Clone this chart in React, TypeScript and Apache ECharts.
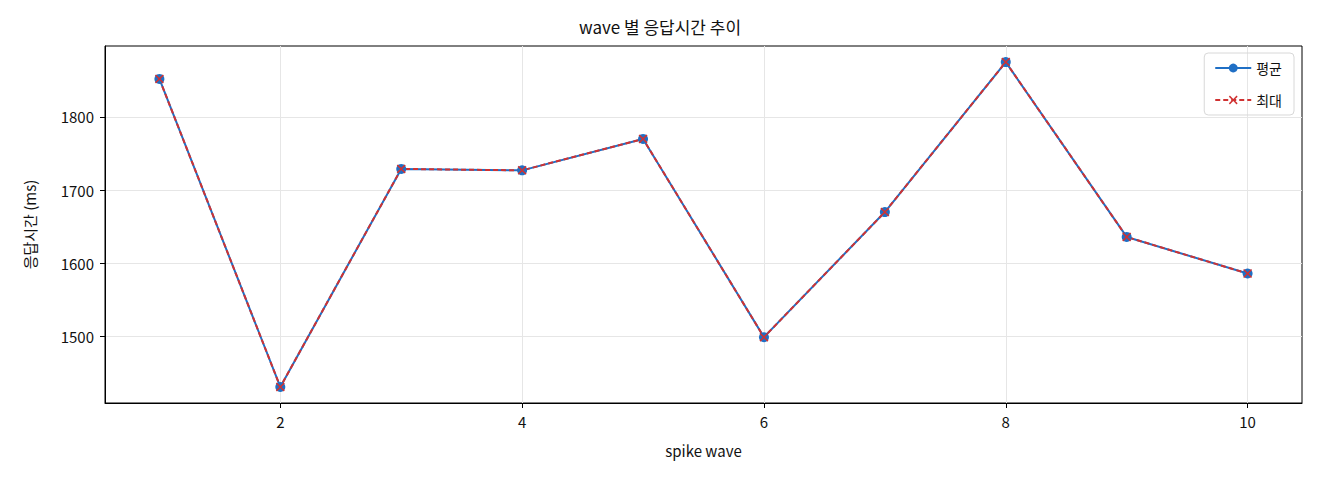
import { useEffect, useRef } from "react";
import * as echarts from "echarts";

const waves = [1, 2, 3, 4, 5, 6, 7, 8, 9, 10];
const avgMs = [1852, 1431, 1729, 1727, 1770, 1499, 1670, 1875, 1636, 1586];
const maxMs = [1852, 1431, 1729, 1727, 1770, 1499, 1670, 1875, 1636, 1586];
const xTicks = [2, 4, 6, 8, 10];
const yTicks = [1500, 1600, 1700, 1800];

const FONT = "'Noto Sans CJK KR', 'Noto Sans', sans-serif";
const BLUE = "#1f6fc5";
const RED = "#d03232";
const CROSS =
  "path://M0,1.2 L1.2,0 L5,3.8 L8.8,0 L10,1.2 L6.2,5 L10,8.8 L8.8,10 L5,6.2 L1.2,10 L0,8.8 L3.8,5 Z";

export default function App() {
  const ref = useRef<HTMLDivElement>(null);

  useEffect(() => {
    if (!ref.current) return;
    const chart = echarts.init(ref.current, null, { renderer: "svg" });
    const label = { fontFamily: FONT, fontSize: 15, color: "#111" };
    chart.setOption({
      animation: false,
      backgroundColor: "#fff",
      textStyle: { fontFamily: FONT },
      title: {
        text: "wave 별 응답시간 추이",
        left: "center",
        top: 13,
        textStyle: { fontFamily: FONT, fontSize: 17, fontWeight: "normal", color: "#111" },
      },
      grid: {
        left: 105,
        right: 18,
        top: 46,
        bottom: 77,
        show: true,
        borderColor: "#000",
        borderWidth: 1,
        backgroundColor: "transparent",
      },
      legend: {
        orient: "vertical",
        right: 26,
        top: 53,
        itemWidth: 36,
        itemHeight: 11,
        itemGap: 18,
        padding: [8, 12, 8, 10],
        borderColor: "#d8d8d8",
        borderWidth: 1,
        borderRadius: 4,
        textStyle: { ...label, fontSize: 14 },
        data: ["평균", "최대"],
      },
      xAxis: {
        type: "value",
        min: 0.55,
        max: 10.45,
        name: "spike wave",
        nameLocation: "middle",
        nameGap: 40,
        nameTextStyle: label,
        axisLine: { show: true, onZero: false, lineStyle: { color: "#000" } },
        axisTick: { show: true, inside: false, length: 5, customValues: xTicks, lineStyle: { color: "#000" } },
        axisLabel: { ...label, customValues: xTicks, margin: 11 },
        splitLine: { show: true, lineStyle: { color: "#e6e6e6" } },
      },
      yAxis: {
        type: "value",
        min: 1409,
        max: 1897,
        name: "응답시간 (ms)",
        nameLocation: "middle",
        nameGap: 68,
        nameTextStyle: label,
        axisLine: { show: true, onZero: false, lineStyle: { color: "#000" } },
        axisTick: { show: true, inside: false, length: 5, customValues: yTicks, lineStyle: { color: "#000" } },
        axisLabel: { ...label, customValues: yTicks, margin: 11, formatter: (v: number) => String(v) },
        splitLine: { show: true, lineStyle: { color: "#e6e6e6" } },
      },
      series: [
        {
          name: "평균",
          type: "line",
          data: waves.map((w, i) => [w, avgMs[i]]),
          symbol: "circle",
          symbolSize: 10,
          lineStyle: { color: BLUE, width: 2 },
          itemStyle: { color: BLUE },
        },
        {
          name: "최대",
          type: "line",
          data: waves.map((w, i) => [w, maxMs[i]]),
          symbol: CROSS,
          symbolSize: 9,
          lineStyle: { color: RED, width: 2, type: [5, 3] },
          itemStyle: { color: RED },
        },
      ],
    });
    return () => chart.dispose();
  }, []);

  return (
    <div
      ref={ref}
      style={{ position: "fixed", left: 0, top: 0, width: 1320, height: 480 }}
    />
  );
}
